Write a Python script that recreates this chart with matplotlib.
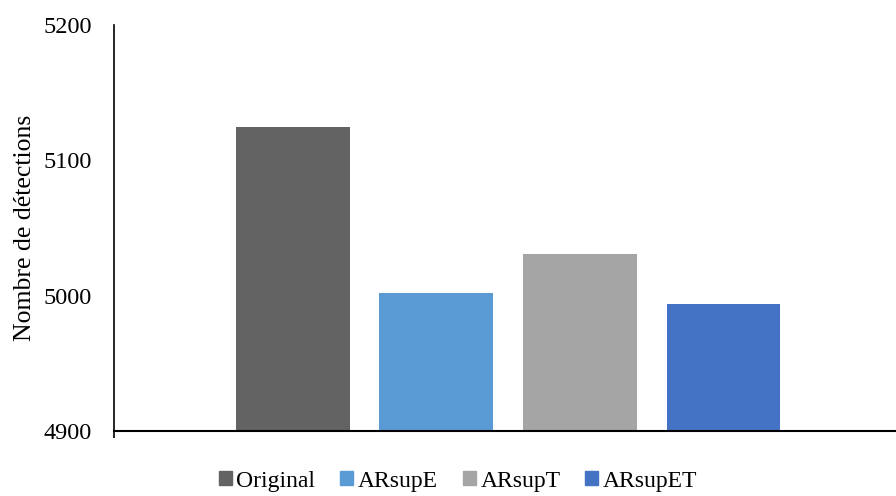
import matplotlib.pyplot as plt
import matplotlib.patches as mpatches

plt.rcParams['font.family'] = ['Liberation Serif', 'DejaVu Serif']

series = ["Original", "ARsupE", "ARsupT", "ARsupET"]
values = [5125, 5002, 5031, 4994]
colors = ["#636363", "#5B9BD5", "#A5A5A5", "#4472C4"]
yticks = [4900, 5000, 5100, 5200]

fig = plt.figure(figsize=(8.96, 4.96), dpi=100)
ax = fig.add_axes([114 / 896, 65 / 496, 782 / 896, 406 / 496])

x = list(range(len(series)))
ax.bar(x, [v - 4900 for v in values], bottom=4900, width=0.794, color=colors)

ax.set_ylim(4900, 5200)
ax.set_xlim(-1.247, 4.202)
ax.set_yticks(yticks)
ax.set_yticklabels([str(t) for t in yticks], fontsize=17.5)
ax.tick_params(axis='y', length=0, pad=16)
ax.set_xticks([-1.247])
ax.set_xticklabels([])
ax.tick_params(axis='x', length=5, width=1.2, direction='out')
ax.set_ylabel("Nombre de détections", fontsize=18.5, labelpad=5)

for s in ["top", "right"]:
    ax.spines[s].set_visible(False)
ax.spines["left"].set_linewidth(1.2)
ax.spines["bottom"].set_linewidth(1.5)

handles = [mpatches.Patch(color=c, label=s) for s, c in zip(series, colors)]
fig.legend(handles=handles, loc="center", bbox_to_anchor=(458 / 896, 1 - 481 / 496),
           ncol=4, frameon=False, fontsize=17, handlelength=0.55, handleheight=0.55,
           handletextpad=0.2, columnspacing=1.05)

fig.savefig("out.png", dpi=100)
